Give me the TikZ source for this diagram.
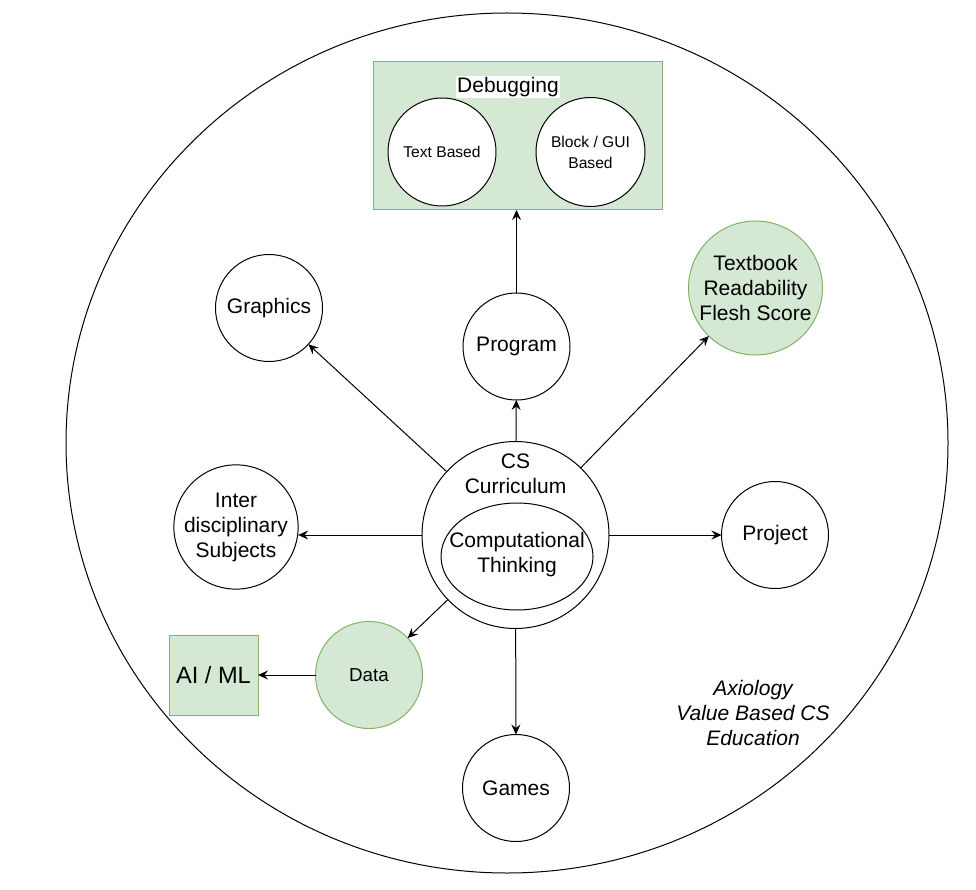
\documentclass[tikz,border=0pt]{standalone}
\usepackage{fontspec}
\setmainfont{Liberation Sans}
\usetikzlibrary{arrows.meta,shapes.geometric}
\definecolor{gfill}{HTML}{D5E8D4}
\definecolor{gline}{HTML}{82B366}
\begin{document}
\begin{tikzpicture}[x=1pt,y=-1pt, line width=1pt,
  base/.style={font=\fontsize{21}{25}\selectfont, align=center, inner sep=0pt, outer sep=0pt},
  circ/.style={base, circle, draw=black, fill=white, minimum size=#1},
  gcirc/.style={base, circle, draw=gline, fill=gfill, minimum size=#1},
  grect/.style={base, rectangle, draw=gline, fill=gfill},
  arr/.style={-{Stealth[length=10pt,width=9pt,inset=3.5pt]}, line width=1pt}]
\useasboundingbox (0,0) rectangle (976,890);

% outer frame
\node[draw=black, ellipse, minimum width=882, minimum height=860, inner sep=0pt] (frame) at (507,443) {};

% debugging group
\node[grect, minimum width=289, minimum height=148] (debug) at (517.5,136) {};
\node[base, fill=white, inner sep=1pt] (debuglabel) at (508,87) {Debugging};
\node[circ=108, font=\fontsize{15.6}{21}\selectfont] (text) at (442,152) {Text Based};
\node[circ=109, font=\fontsize{15.6}{21}\selectfont] (block) at (590.5,152) {Block / GUI\\Based};

% nodes
\node[circ=107] (program) at (516.5,346.5) {Program};
\node[circ=107] (graphics) at (269,308) {Graphics};
\node[gcirc=134] (textbook) at (755.5,288) {Textbook\\Readability\\Flesh Score};
\node[circ=187] (cs) at (515.5,535) {};
\node[base] (cslabel) at (515.5,474) {CS\\Curriculum};
\node[draw=black, ellipse, minimum width=152, minimum height=107, inner sep=0pt] (ct) at (517,556.5) {};
\node[base] (ctlabel) at (517,555) {Computational\\Thinking};
\node[circ=120] (inter) at (236,527) {Inter\\disciplinary\\Subjects};
\node[circ=107] (project) at (775,535) {Project};
\node[gcirc=107, font=\fontsize{18.8}{22}\selectfont] (data) at (369,675) {Data};
\node[grect, minimum width=89, minimum height=80, font=\fontsize{23.6}{28}\selectfont] (aiml) at (213.5,675) {AI / ML};
\node[circ=107] (games) at (516,788) {Games};

\node[base, font=\fontsize{21}{25}\selectfont\itshape] (axio) at (753,713) {Axiology\\Value Based CS\\Education};

% connectors
\draw[arr] (cs) -- (program);
\draw[arr] (program.north) -- (program.north |- debug.south);
\draw[arr] (cs) -- (graphics);
\draw[arr] (cs) -- (textbook);
\draw[arr] (cs.west) -- (cs.west -| inter.east);
\draw[arr] (cs) -- (project);
\draw[arr] (cs) -- (data);
\draw[arr] (cs) -- (games);
\draw[arr] (data) -- (aiml);
\end{tikzpicture}
\end{document}
